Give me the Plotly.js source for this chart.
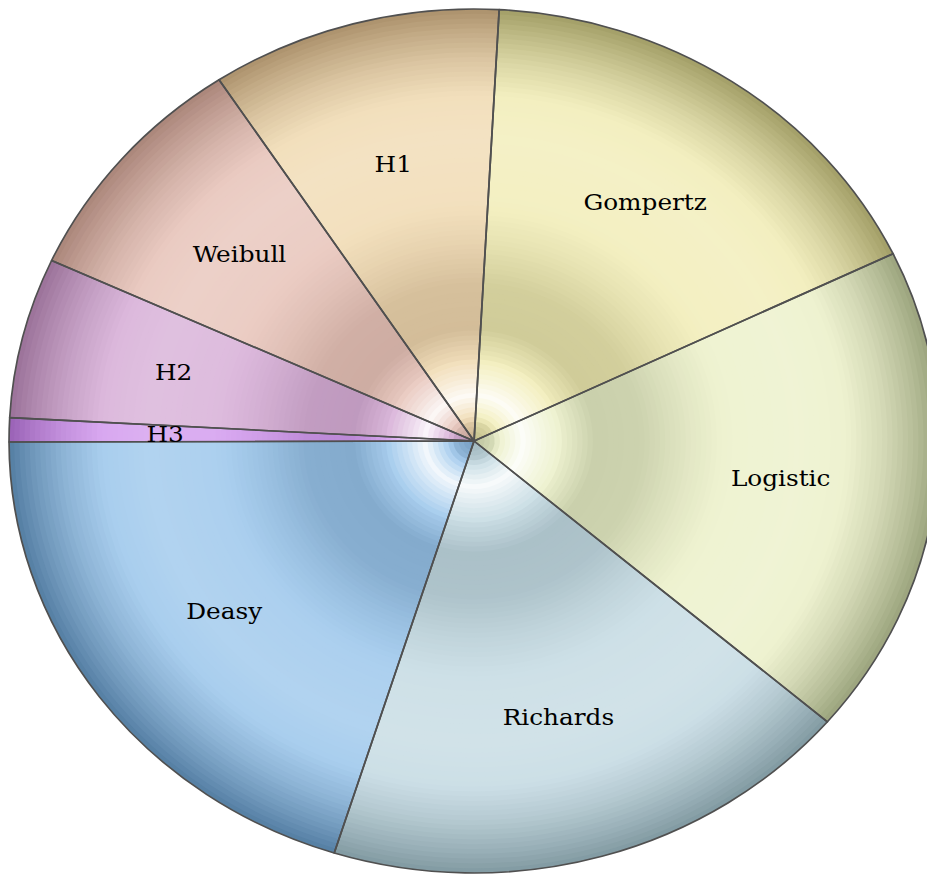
<!DOCTYPE html>
<html>
<head>
<meta charset="utf-8">
<script src="https://cdn.plot.ly/plotly-3.0.1.min.js"></script>
<style>
  html, body { margin: 0; padding: 0; background: #ffffff; overflow: hidden; width: 927px; height: 875px; }
  #chart { width: 880px; height: 875px; transform: scaleX(1.0764); transform-origin: 0 0; }
</style>
</head>
<body>
<div id="chart"></div>
<script>
// ---- data ----
const labels = ["Gompertz", "Logistic", "Richards", "Deasy", "H3", "H2", "Weibull", "H1"];
const values = [17.0, 18.4, 18.6, 20.1, 0.9, 6.0, 8.9, 10.1];

// ---- style ----
const lightColors = ["#F3EFC0", "#EEF2D0", "#CCDFE6", "#A9CEEE", "#D8A8F0", "#DCB9DC", "#EACBC2", "#F2DFBC"];
const darkColors  = ["#8E8A50", "#869068", "#6E8890", "#3F6A90", "#8A50A8", "#8A6088", "#9A7468", "#9A7E58"];

const W = 880, H = 875;           // plot size (stretched horizontally by CSS)
const CX = 440.4, CY = 441, R = 432;
const ROT = 3.1;
const LABEL_R = 0.665;

// radial shading profile (t = r/R, p<0 toward dark, p>0 toward white)
const prof = [
  [0.00, -0.5], [0.04, -0.25], [0.075, 0.35], [0.105, 0.85], [0.14, 0.45],
  [0.19, -0.05], [0.26, -0.35], [0.36, -0.32], [0.46, -0.12], [0.56, 0.04],
  [0.70, 0.10], [0.80, 0.0], [0.88, -0.25], [0.95, -0.55], [1.0, -0.8]
];
function profile(t) {
  for (let i = 1; i < prof.length; i++) {
    if (t <= prof[i][0]) {
      const a = prof[i - 1], b = prof[i];
      const f = (t - a[0]) / (b[0] - a[0]);
      return a[1] + (b[1] - a[1]) * f;
    }
  }
  return prof[prof.length - 1][1];
}
function hex2rgb(h) {
  return [parseInt(h.substr(1, 2), 16), parseInt(h.substr(3, 2), 16), parseInt(h.substr(5, 2), 16)];
}
function mix(c1, c2, f) {
  return c1.map((v, i) => Math.round(v + (c2[i] - v) * f));
}
function shade(i, t) {
  const p = profile(t);
  const L = hex2rgb(lightColors[i]);
  const c = p < 0 ? mix(L, hex2rgb(darkColors[i]), -p) : mix(L, [255, 255, 255], p);
  return "rgb(" + c.join(",") + ")";
}

function domainFor(r) {
  const cx = CX / W, cy = (H - CY) / H;
  return { x: [cx - r / W, cx + r / W], y: [cy - r / H, cy + r / H] };
}

const traces = [];
const N = 90;
for (let k = 0; k < N; k++) {
  const tOuter = 1 - k / N;
  const tMid = Math.max(tOuter - 0.5 / N, 0);
  traces.push({
    type: "pie",
    labels: labels,
    values: values,
    sort: false,
    direction: "clockwise",
    rotation: ROT,
    domain: domainFor(R * tOuter),
    marker: { colors: labels.map((_, i) => shade(i, tMid)), line: { width: 0 } },
    textinfo: "none",
    hoverinfo: "skip",
    showlegend: false
  });
}

// top trace: slice borders
traces.push({
  type: "pie",
  labels: labels,
  values: values,
  sort: false,
  direction: "clockwise",
  rotation: ROT,
  domain: domainFor(R),
  marker: { colors: labels.map(() => "rgba(0,0,0,0)"), line: { color: "#505050", width: 1.6 } },
  textinfo: "none",
  hoverinfo: "label+percent",
  showlegend: false
});

// labels placed on each slice's bisector, derived from the values
const total = values.reduce((a, b) => a + b, 0);
let acc = 0;
const annotations = labels.map((lab, i) => {
  const mid = ROT + (acc + values[i] / 2) / total * 360;
  acc += values[i];
  const a = mid * Math.PI / 180;
  const px = CX + LABEL_R * R * Math.sin(a);
  const py = CY - LABEL_R * R * Math.cos(a);
  return {
    text: lab, xref: "paper", yref: "paper",
    x: px / W, y: 1 - py / H, xanchor: "center", yanchor: "middle",
    showarrow: false,
    font: { family: "DejaVu Serif", size: 23, color: "#000000" }
  };
});

const layout = {
  width: W,
  height: H,
  margin: { l: 0, r: 0, t: 0, b: 0 },
  paper_bgcolor: "rgba(0,0,0,0)",
  plot_bgcolor: "rgba(0,0,0,0)",
  showlegend: false,
  annotations: annotations
};

Plotly.newPlot("chart", traces, layout, { displayModeBar: false, staticPlot: true });
</script>
</body>
</html>
